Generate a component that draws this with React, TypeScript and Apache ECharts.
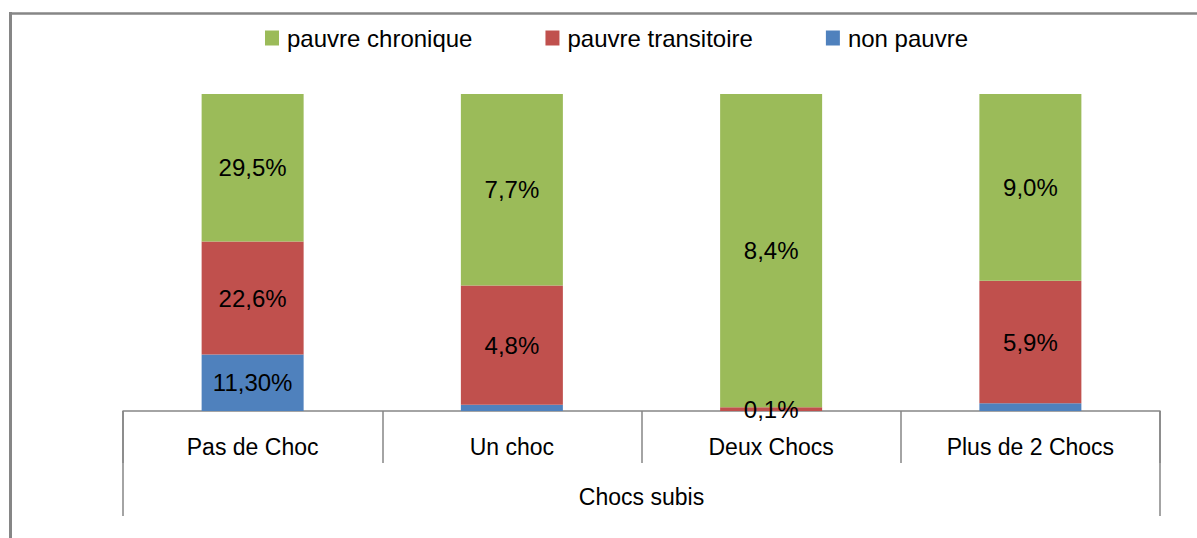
import React, { useEffect, useRef } from "react";
import * as echarts from "echarts";

const categories = ["Pas de Choc", "Un choc", "Deux Chocs", "Plus de 2 Chocs"];
const groupLabel = ["Chocs subis"];
const nonPauvre = [11.3, 0.25, 0, 0.37];
const transitoire = [22.6, 4.8, 0.1, 5.9];
const chronique = [29.5, 7.7, 8.4, 9.0];
const nonPauvreLabelShown = [true, false, false, false];
const seriesNames = ["pauvre chronique", "pauvre transitoire", "non pauvre"];

const FONT = '"Liberation Sans", Arial, sans-serif';

export default function App() {
  const ref = useRef<HTMLDivElement>(null);
  useEffect(() => {
    if (!ref.current) return;
    const chart = echarts.init(ref.current, undefined, { renderer: "svg" });
    const totals = categories.map((_, i) => nonPauvre[i] + transitoire[i] + chronique[i]);
    const build = (arr: number[], shown?: boolean[]) =>
      arr.map((v, i) => ({
        value: (v / totals[i]) * 100,
        raw: v,
        label: { show: shown ? shown[i] : true },
      }));
    const fmt = (dec: number) => (p: any) =>
      p.data.raw.toFixed(dec).replace(".", ",") + "%";
    const labelStyle = {
      position: "inside",
      color: "#000",
      fontSize: 24,
      fontFamily: FONT,
    };
    chart.setOption({
      animation: false,
      backgroundColor: "#fff",
      textStyle: { fontFamily: FONT },
      legend: {
        left: 265,
        top: 26,
        padding: 0,
        itemWidth: 14,
        itemHeight: 15,
        itemGap: 73,
        data: seriesNames,
        textStyle: { fontSize: 24, color: "#000", fontFamily: FONT, padding: [0, 0, 0, 3] },
        icon: "rect",
      },
      grid: { left: 123, right: 37, top: 94, bottom: 127 },
      xAxis: [
        {
          type: "category",
          data: categories,
          position: "bottom",
          axisLine: { lineStyle: { color: "#868686", width: 1.5 } },
          axisTick: { show: true, length: 52, lineStyle: { color: "#868686", width: 1.5 } },
          axisLabel: { margin: 24, fontSize: 23, color: "#000", fontFamily: FONT },
        },
        {
          type: "category",
          data: groupLabel,
          position: "bottom",
          axisLine: { show: false },
          axisTick: { show: true, length: 105, lineStyle: { color: "#868686", width: 1.5 } },
          axisLabel: { margin: 74, fontSize: 23, color: "#000", fontFamily: FONT },
        },
      ],
      yAxis: { type: "value", min: 0, max: 100, show: false, splitLine: { show: false } },
      series: [
        {
          name: "non pauvre",
          type: "bar",
          stack: "s",
          barWidth: 102,
          itemStyle: { color: "#4F81BD" },
          label: { ...labelStyle, formatter: fmt(2) },
          data: build(nonPauvre, nonPauvreLabelShown),
        },
        {
          name: "pauvre transitoire",
          type: "bar",
          stack: "s",
          barWidth: 102,
          itemStyle: { color: "#C0504D" },
          label: { ...labelStyle, formatter: fmt(1) },
          data: build(transitoire),
        },
        {
          name: "pauvre chronique",
          type: "bar",
          stack: "s",
          barWidth: 102,
          itemStyle: { color: "#9BBB59" },
          label: { ...labelStyle, formatter: fmt(1) },
          data: build(chronique),
        },
      ],
      graphic: [
        {
          type: "line",
          shape: { x1: 9, y1: 13.5, x2: 1197, y2: 13.5 },
          style: { stroke: "#868686", lineWidth: 2.5 },
        },
        {
          type: "line",
          shape: { x1: 10.5, y1: 12, x2: 10.5, y2: 538 },
          style: { stroke: "#868686", lineWidth: 3 },
        },
      ],
    });
    return () => chart.dispose();
  }, []);
  return (
    <div
      ref={ref}
      style={{ position: "fixed", left: 0, top: 0, width: 1197, height: 538, background: "#fff" }}
    />
  );
}
